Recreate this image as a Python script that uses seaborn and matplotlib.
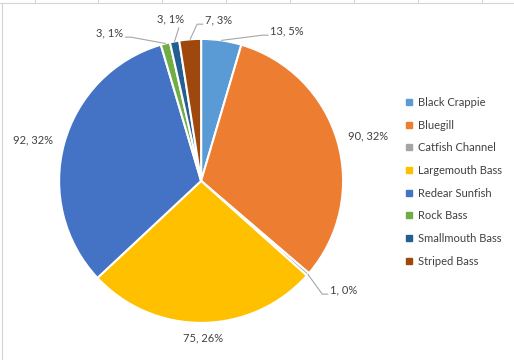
import numpy as np
import matplotlib
matplotlib.use('Agg')
import matplotlib.pyplot as plt
from matplotlib.lines import Line2D
import seaborn as sns

# -------------------- Data --------------------
species = ["Black Crappie", "Bluegill", "Catfish Channel", "Largemouth Bass",
           "Redear Sunfish", "Rock Bass", "Smallmouth Bass", "Striped Bass"]
counts = [13, 90, 1, 75, 92, 3, 3, 7]
percent_labels = ["5%", "32%", "0%", "26%", "32%", "1%", "1%", "3%"]

colors = ["#5B9BD5", "#ED7D31", "#A5A5A5", "#FFC000",
          "#4472C4", "#70AD47", "#255E91", "#9E480E"]

# label layout: radius factor, angle tweak (deg), alignment, leader line
label_layout = [
    (1.163, 16.5, 'left', True),
    (1.215, 1.4, 'center', False),
    (1.189, -1.0, 'left', True),
    (1.106, 0.0, 'center', False),
    (1.218, -1.5, 'center', False),
    (1.178, -13.2, 'right', True),
    (1.159, 0.0, 'center', True),
    (1.134, 5.8, 'left', True),
]

sns.set_theme(style="white")
plt.rcParams['font.family'] = ['Lato', 'DejaVu Sans']
text_color = "#404040"
line_color = "#A6A6A6"

fig = plt.figure(figsize=(5.14, 3.60), dpi=100)
fig.patch.set_facecolor("white")

# spreadsheet cell borders behind chart
fig.add_artist(Line2D([0, 1], [1 - 3 / 360, 1 - 3 / 360], color="#D4D4D4", lw=0.8))
fig.add_artist(Line2D([1.5 / 514, 1.5 / 514], [0, 1 - 3 / 360], color="#D4D4D4", lw=0.8))
for gx in [35, 98, 162, 226, 290, 354, 418, 482]:
    fig.add_artist(Line2D([gx / 514, gx / 514], [1, 1 - 3 / 360], color="#D4D4D4", lw=0.8))

ax = fig.add_axes([0.115, 0.103, 0.5525, 0.789])
wedges, _ = ax.pie(counts, colors=colors, startangle=90, counterclock=False,
                   radius=1.0, wedgeprops=dict(edgecolor="white", linewidth=1.5))
ax.set_xlim(-1, 1)
ax.set_ylim(-1, 1)
ax.set_aspect('equal')
ax.axis('off')

total = sum(counts)
cum = np.cumsum([0] + counts)
for i, (n, pct) in enumerate(zip(counts, percent_labels)):
    mid = (cum[i] + n / 2) / total * 360.0  # clockwise from 12 o'clock
    r, tweak, ha, leader = label_layout[i]
    a = np.deg2rad(mid + tweak)
    tx, ty = r * np.sin(a), r * np.cos(a)
    ax.text(tx, ty, f"{n}, {pct}", ha=ha, va='center', fontsize=8,
            color=text_color, clip_on=False)
    if leader:
        m = np.deg2rad(mid)
        ex, ey = np.sin(m), np.cos(m)
        if ha == 'left':
            end = (tx - 0.015, ty - 0.03)
            pts = [(ex, ey), (end[0] - 0.04, end[1]), end]
        elif ha == 'right':
            end = (tx + 0.015, ty - 0.03)
            pts = [(ex, ey), (end[0] + 0.04, end[1]), end]
        else:
            end = (tx + 0.06, ty - 0.06)
            pts = [(ex, ey), end]
        xs, ys = zip(*pts)
        ax.plot(xs, ys, color=line_color, lw=0.8, clip_on=False)

handles = [Line2D([], [], marker='s', linestyle='none', markersize=4.5,
                  markerfacecolor=c, markeredgecolor=c) for c in colors]
fig.legend(handles, species, loc='upper left', bbox_to_anchor=(0.789, 0.731),
           frameon=False, fontsize=8, labelcolor=text_color,
           handlelength=0.6, handletextpad=0.5, labelspacing=1.05,
           borderaxespad=0, borderpad=0)

fig.savefig("out.png", dpi=100, facecolor="white")
